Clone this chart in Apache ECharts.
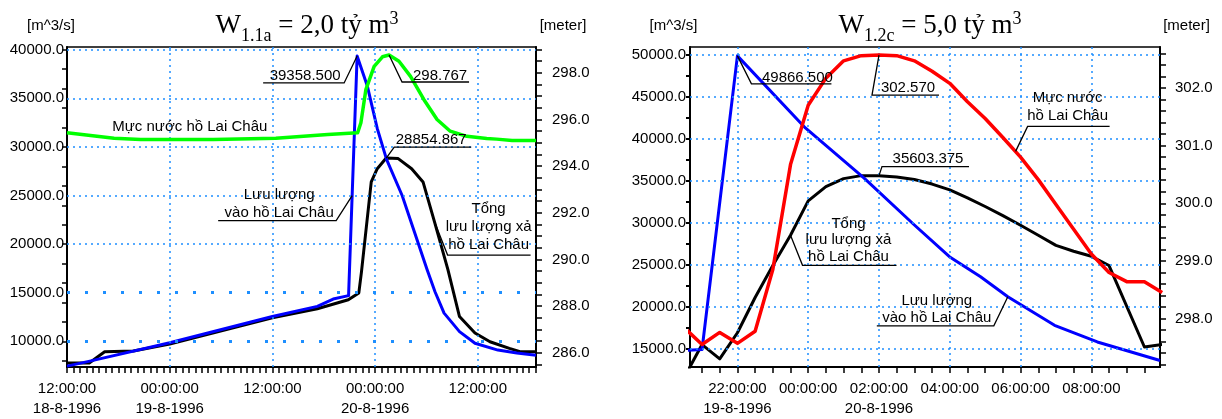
<!DOCTYPE html>
<html><head><meta charset="utf-8">
<script src="https://cdn.jsdelivr.net/npm/echarts@6/dist/echarts.min.js"></script>
<style>html,body{margin:0;padding:0;background:#fff}#c{width:1222px;height:419px}</style>
</head><body><div id="c"></div>
<script>
// ---------- DATA (hours counted from 18-8-1996 00:00) ----------
// Left chart: W1.1a = 2,0 ty m3
const leftInflow = [[12.0,7450],[14.8,7990],[24.0,9855],[36.0,12550],[41.25,13600],[43.1,14350],[44.9,14700],[45.9,39358.5],[47.08,36300],[48.25,31900],[49.35,28700],[51.16,25000],[54.07,17400],[55.0,15100],[56.06,12900],[57.86,11000],[59.67,9800],[62.35,9100],[64.56,8800],[66.8,8580]];
const leftOutflow = [[12.0,7780],[14.6,7780],[16.4,8920],[19.76,9000],[24.0,9720],[36.0,12420],[41.25,13350],[44.87,14280],[46.1,14980],[46.4,17100],[47.55,26400],[48.25,27760],[49.3,28854.867],[50.7,28800],[52.27,27760],[53.6,26400],[54.95,22270],[56.5,17400],[57.86,12550],[59.67,10860],[61.42,9960],[63.69,9270],[65.03,8920],[66.8,8920]];
const leftLevel = [[12,295.43],[17.5,295.2],[20.6,295.14],[29.1,295.14],[36.4,295.2],[41.25,295.33],[42.48,295.36],[45.96,295.43],[46.34,295.86],[46.92,297.28],[47.89,298.28],[48.86,298.69],[49.63,298.767],[50.79,298.5],[52.14,297.85],[53.69,296.86],[55.24,296.0],[56.78,295.5],[58.72,295.28],[61.04,295.19],[62.2,295.16],[64.0,295.1],[66.8,295.1]];
// Right chart: W1.2c = 5,0 ty m3 (hours counted from 19-8-1996 00:00)
const rightInflow = [[20.5,14800],[21.0,14900],[22.0,49866.5],[23.92,41280],[25.58,35300],[27.0,29730],[27.99,25950],[28.87,23560],[29.64,21180],[30.96,17780],[32.17,15800],[33.94,13600]];
const rightOutflow = [[20.5,11600],[21.0,15490],[21.5,13790],[22.0,16900],[22.5,21100],[23.0,24900],[23.5,28500],[24.0,32600],[24.5,34300],[25.0,35250],[25.5,35603.375],[26.0,35603.375],[26.5,35450],[27.0,35150],[27.5,34600],[28.0,33900],[28.5,32950],[29.0,31930],[29.5,30850],[30.0,29700],[30.5,28500],[31.0,27300],[31.5,26600],[32.0,26000],[32.5,24900],[33.5,15200],[34.0,15500]];
const rightLevel = [[20.5,297.84],[21.0,297.55],[21.5,297.76],[22.0,297.57],[22.5,297.78],[23.0,298.85],[23.5,300.67],[24.0,301.7],[24.5,302.17],[25.0,302.47],[25.5,302.56],[26.0,302.57],[26.5,302.56],[27.0,302.47],[27.5,302.29],[28.0,302.08],[28.5,301.76],[29.0,301.47],[29.5,301.14],[30.0,300.8],[30.5,300.41],[31.0,299.98],[31.5,299.55],[32.0,299.12],[32.5,298.8],[33.0,298.64],[33.5,298.64],[34.0,298.45]];

// ---------- TICKS / LABELS ----------
const leftTimeTicks = [12, 24, 36, 48, 60];
const leftTimeLabels = ['12:00:00\n18-8-1996', '00:00:00\n19-8-1996', '12:00:00', '00:00:00\n20-8-1996', '12:00:00'];
const rightTimeTicks = [22, 24, 26, 28, 30, 32];
const rightTimeLabels = ['22:00:00\n19-8-1996', '00:00:00', '02:00:00\n20-8-1996', '04:00:00', '06:00:00', '08:00:00'];
const leftFlowLabels = [10000, 15000, 20000, 25000, 30000, 35000, 40000];
const leftLevelLabels = [286, 288, 290, 292, 294, 296, 298];
const rightFlowLabels = [15000, 20000, 25000, 30000, 35000, 40000, 45000, 50000];
const rightLevelLabels = [298, 299, 300, 301, 302];
const leftGridBold = [10000, 15000];

function range(a, b, s) { const r = []; for (let v = a; v <= b + 1e-9; v += s) r.push(+v.toFixed(3)); return r; }
const leftTimeMinor = range(12, 66.8, 0.75);
const rightTimeMinor = range(21, 33.9, 0.5);
const leftFlowMinor = range(8000, 40000, 2000);
const leftLevelMinor = range(285.5, 299.0, 0.5);
const rightFlowMinor = range(15000, 50000, 2500);
const rightLevelMinor = range(297.2, 302.6, 0.2);

const FONT = '"Liberation Sans", Arial, sans-serif';
const SERIF = '"Liberation Serif", "Times New Roman", serif';
const GRIDC = '#1e8fff';

function pick(ticks, labels) {
  return v => { const i = ticks.findIndex(t => Math.abs(t - v) < 1e-6); return i < 0 ? '' : labels[i]; };
}

function xAxisDef(grid, min, max, minor, ticks, labels) {
  return {
    type: 'value', gridIndex: grid, min, max,
    axisLine: { show: true, onZero: false, lineStyle: { color: '#000', width: 2 } },
    axisTick: { show: true, inside: false, length: 6, customValues: minor, lineStyle: { color: '#000', width: 1.5 } },
    axisLabel: { customValues: ticks, formatter: pick(ticks, labels), color: '#000', fontSize: 15, fontFamily: FONT,
      lineHeight: 20, margin: 12, showMinLabel: true, showMaxLabel: true, hideOverlap: false },
    splitLine: { show: false }
  };
}
function yAxisDef(grid, pos, min, max, minor, labels, margin, tickLen, tickW, name, namePad) {
  return {
    type: 'value', gridIndex: grid, position: pos, min, max,
    name, nameLocation: 'end', nameGap: 14,
    nameTextStyle: { color: '#000', fontSize: 15, fontFamily: FONT, align: 'center', padding: namePad },
    axisLine: { show: true, onZero: false, lineStyle: { color: '#000', width: 2 } },
    axisTick: { show: true, inside: false, length: tickLen, customValues: minor, lineStyle: { color: '#000', width: tickW } },
    axisLabel: { customValues: labels, formatter: v => v.toFixed(1), color: '#000', fontSize: 15, fontFamily: FONT, margin,
      showMinLabel: true, showMaxLabel: true },
    splitLine: { show: false }
  };
}

const dotted = { color: GRIDC, width: 1.5, type: [2, 4] };
const bold = { color: GRIDC, width: 3, type: [3, 15] };

function gridLines(hVals, vVals, boldVals) {
  return {
    symbol: 'none', silent: true, label: { show: false }, animation: false,
    data: hVals.map(v => ({ yAxis: v, lineStyle: boldVals.includes(v) ? bold : dotted }))
      .concat(vVals.map(v => ({ xAxis: v, lineStyle: dotted })))
  };
}

function lineSeries(data, xi, yi, color, width, z) {
  return { type: 'line', data, xAxisIndex: xi, yAxisIndex: yi, showSymbol: false, symbol: 'none', clip: true,
    lineStyle: { color, width, join: 'round' }, z, animation: false };
}

const title = (x, main, sub) => ({
  left: x, top: 2, textAlign: 'center',
  text: '{w|W}{s|' + sub + '}{w| = ' + main + ' tỷ m}{p|3}',
  textStyle: { fontWeight: 'normal', rich: {
    w: { fontFamily: SERIF, fontWeight: 'normal', fontSize: 27, lineHeight: 38, color: '#000', verticalAlign: 'middle' },
    s: { fontFamily: SERIF, fontWeight: 'normal', fontSize: 18, lineHeight: 18, color: '#000', verticalAlign: 'bottom' },
    p: { fontFamily: SERIF, fontWeight: 'normal', fontSize: 18, lineHeight: 18, color: '#000', verticalAlign: 'top', padding: [3, 0, 0, 0] }
  } }
});

const chart = echarts.init(document.getElementById('c'), null, { renderer: 'canvas' });
chart.setOption({
  animation: false,
  backgroundColor: '#fff',
  title: [title(302, '2,0', '1.1a'), title(925, '5,0', '1.2c')],
  grid: [
    { left: 67, top: 47, width: 469, height: 321, show: true, borderColor: '#000', borderWidth: 1.5, backgroundColor: 'transparent' },
    { left: 690, top: 47, width: 470, height: 321, show: true, borderColor: '#000', borderWidth: 1.5, backgroundColor: 'transparent' }
  ],
  xAxis: [
    xAxisDef(0, 12, 66.8, leftTimeMinor, leftTimeTicks, leftTimeLabels),
    xAxisDef(1, 20.66, 33.94, rightTimeMinor, rightTimeTicks, rightTimeLabels)
  ],
  yAxis: [
    yAxisDef(0, 'left', 7360, 40280, leftFlowMinor, leftFlowLabels, 3, 5, 1.5, '[m^3/s]', [0, 32, 0, 0]),
    yAxisDef(0, 'right', 285.39, 299.11, leftLevelMinor, leftLevelLabels, 16, 6, 1.5, '[meter]', [0, 0, 0, 54]),
    yAxisDef(1, 'left', 12820, 50920, rightFlowMinor, rightFlowLabels, 4, 4, 2, '[m^3/s]', [0, 33, 0, 0]),
    yAxisDef(1, 'right', 297.16, 302.71, rightLevelMinor, rightLevelLabels, 15, 6, 1.5, '[meter]', [0, 0, 0, 53])
  ],
  series: [
    Object.assign(lineSeries(leftOutflow, 0, 0, 'rgba(0,0,0,0)', 0, 1), { markLine: gridLines(leftFlowLabels, leftTimeTicks.slice(1), leftGridBold) }),
    lineSeries(leftOutflow, 0, 0, '#000000', 3, 3),
    lineSeries(leftInflow, 0, 0, '#0000ff', 3, 4),
    lineSeries(leftLevel, 0, 1, '#00ff00', 3.5, 5),
    Object.assign(lineSeries(rightOutflow, 1, 2, 'rgba(0,0,0,0)', 0, 1), { markLine: gridLines(rightFlowLabels, rightTimeTicks, []) }),
    lineSeries(rightOutflow, 1, 2, '#000000', 3, 3),
    lineSeries(rightInflow, 1, 2, '#0000ff', 3, 4),
    lineSeries(rightLevel, 1, 3, '#ff0000', 3.5, 5)
  ]
});

// ---------- ANNOTATIONS (anchored to data points) ----------
const notes = [
  { s: 2, at: [45.9, 39358.5], lead: [[0,0],[-13,27],[-94,27]], tx: -52, ty: [20], lines: ['39358.500'] },
  { s: 3, at: [49.63, 298.767], lead: [[0,0],[13,27],[80,27]], tx: 51, ty: [21], lines: ['298.767'] },
  { s: 1, at: [49.3, 28854.867], lead: [[0,0],[8,-11],[85,-11]], tx: 45, ty: [-18], lines: ['28854.867'] },
  { s: 3, at: [26, 295.14], lead: null, tx: 3, ty: [-13], lines: ['Mực nước hồ Lai Châu'] },
  { s: 2, at: [45.32, 25000], lead: [[0,0],[-16,25],[-134,25]], tx: -73, ty: [-1, 17], lines: ['Lưu lượng', 'vào hồ Lai Châu'] },
  { s: 1, at: [54.95, 22270], lead: [[0,0],[13,33],[96,33]], tx: 54, ty: [-13, 5, 23], lines: ['Tổng', 'lưu lượng xả', 'hồ Lai Châu'] },
  { s: 6, at: [22, 49866.5], lead: [[0,0],[14,28],[94,28]], tx: 60, ty: [22], lines: ['49866.500'] },
  { s: 7, at: [26, 302.57], lead: [[0,0],[-7,40],[60,40]], tx: 29, ty: [33], lines: ['302.570'] },
  { s: 7, at: [29.86, 300.90], lead: [[0,0],[12,-25],[94,-25]], tx: 52, ty: [-54, -36], lines: ['Mực nước', 'hồ Lai Châu'] },
  { s: 5, at: [26.0, 35603.375], lead: [[0,0],[3,-9],[90,-9]], tx: 49, ty: [-17], lines: ['35603.375'] },
  { s: 5, at: [23.5, 28500], lead: [[0,0],[12,30],[106,30]], tx: 58, ty: [-11, 5, 22], lines: ['Tổng', 'lưu lượng xả', 'hồ Lai Châu'] },
  { s: 6, at: [29.64, 21180], lead: [[0,0],[-14,29],[-131,29]], tx: -71, ty: [4, 21], lines: ['Lưu lượng', 'vào hồ Lai Châu'] }
];
const elements = [];
notes.forEach(n => {
  const p = chart.convertToPixel({ seriesIndex: n.s }, n.at);
  if (n.lead) {
    elements.push({ type: 'polyline', silent: true, z: 100,
      shape: { points: n.lead.map(d => [p[0] + d[0], p[1] + d[1]]) },
      style: { stroke: '#000', lineWidth: 1.3, fill: null } });
  }
  n.lines.forEach((t, i) => {
    elements.push({ type: 'text', silent: true, z: 100,
      x: p[0] + n.tx, y: p[1] + n.ty[i],
      style: { text: t, fill: '#000', font: '15px ' + FONT, align: 'center', verticalAlign: 'middle', textAlign: 'center', textVerticalAlign: 'middle' } });
  });
});
chart.setOption({ graphic: { elements } });
</script>
</body></html>
